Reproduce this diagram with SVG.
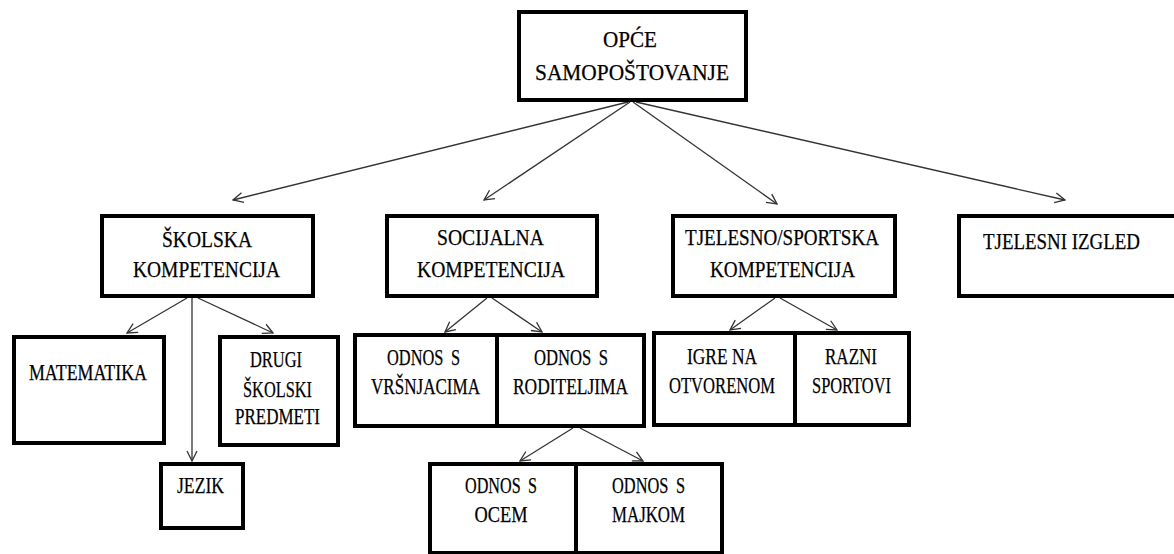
<svg xmlns="http://www.w3.org/2000/svg" width="1174" height="554" viewBox="0 0 1174 554">
<style>
.box{fill:#fff;stroke:#000;stroke-width:4}
.c{stroke:#333;stroke-width:1.3;fill:none}
.t{font-family:'Liberation Serif','Times New Roman',serif;font-size:24px;fill:#000;stroke:#000;stroke-width:0.25;text-anchor:middle}
</style>
<defs>
<marker id="arr" viewBox="0 0 12 12" refX="11" refY="6" markerWidth="12" markerHeight="12" markerUnits="userSpaceOnUse" orient="auto">
<path d="M1,1 L11,6 L1,11" fill="none" stroke="#333" stroke-width="1.3"/>
</marker>
</defs>
<rect width="1174" height="554" fill="#fff"/>
<g id="connectors">
<line class="c" x1="628" y1="102" x2="233" y2="200" marker-end="url(#arr)"/>
<line class="c" x1="630" y1="102" x2="484" y2="200" marker-end="url(#arr)"/>
<line class="c" x1="633" y1="102" x2="777" y2="204" marker-end="url(#arr)"/>
<line class="c" x1="636" y1="102" x2="1065" y2="200" marker-end="url(#arr)"/>
<line class="c" x1="187" y1="298" x2="127" y2="333" marker-end="url(#arr)"/>
<line class="c" x1="192" y1="298" x2="192" y2="461" marker-end="url(#arr)"/>
<line class="c" x1="198" y1="298" x2="273" y2="333" marker-end="url(#arr)"/>
<line class="c" x1="487" y1="298" x2="445" y2="332" marker-end="url(#arr)"/>
<line class="c" x1="492" y1="298" x2="542" y2="332" marker-end="url(#arr)"/>
<line class="c" x1="775" y1="298" x2="730" y2="330" marker-end="url(#arr)"/>
<line class="c" x1="780" y1="298" x2="837" y2="330" marker-end="url(#arr)"/>
<line class="c" x1="573" y1="428" x2="520" y2="461" marker-end="url(#arr)"/>
<line class="c" x1="580" y1="428" x2="643" y2="461" marker-end="url(#arr)"/>
</g>
<g id="opce">
<rect class="box" x="519" y="12" width="227" height="88"/>
<text class="t" x="630" y="47" textLength="54" lengthAdjust="spacingAndGlyphs">OPĆE</text>
<text class="t" x="632" y="80" textLength="194" lengthAdjust="spacingAndGlyphs">SAMOPOŠTOVANJE</text>
</g>
<g id="skolska">
<rect class="box" x="102" y="216" width="211" height="80"/>
<text class="t" x="207" y="247" textLength="90" lengthAdjust="spacingAndGlyphs">ŠKOLSKA</text>
<text class="t" x="206.5" y="277" textLength="147" lengthAdjust="spacingAndGlyphs">KOMPETENCIJA</text>
</g>
<g id="socijalna">
<rect class="box" x="387" y="216" width="210" height="80"/>
<text class="t" x="490.5" y="245" textLength="107" lengthAdjust="spacingAndGlyphs">SOCIJALNA</text>
<text class="t" x="491" y="277" textLength="148" lengthAdjust="spacingAndGlyphs">KOMPETENCIJA</text>
</g>
<g id="tjelesno">
<rect class="box" x="673" y="216" width="222" height="80"/>
<text class="t" x="782" y="245" textLength="194" lengthAdjust="spacingAndGlyphs">TJELESNO/SPORTSKA</text>
<text class="t" x="782.5" y="277" textLength="145" lengthAdjust="spacingAndGlyphs">KOMPETENCIJA</text>
</g>
<g id="izgled">
<rect class="box" x="959" y="216" width="230" height="80"/>
<text class="t" x="1061.5" y="249" textLength="157" lengthAdjust="spacingAndGlyphs">TJELESNI IZGLED</text>
</g>
<g id="matematika">
<rect class="box" x="14" y="337" width="150" height="106"/>
<text class="t" x="88" y="380" textLength="118" lengthAdjust="spacingAndGlyphs">MATEMATIKA</text>
</g>
<g id="drugi">
<rect class="box" x="220" y="337" width="118" height="108"/>
<text class="t" x="276" y="367" textLength="52" lengthAdjust="spacingAndGlyphs">DRUGI</text>
<text class="t" x="277.5" y="397" textLength="69" lengthAdjust="spacingAndGlyphs">ŠKOLSKI</text>
<text class="t" x="277.5" y="424" textLength="85" lengthAdjust="spacingAndGlyphs">PREDMETI</text>
</g>
<g id="jezik">
<rect class="box" x="161" y="464" width="82" height="64"/>
<text class="t" x="200.5" y="493" textLength="47" lengthAdjust="spacingAndGlyphs">JEZIK</text>
</g>
<g id="vrsnjaci">
<rect class="box" x="355" y="335" width="142" height="91"/>
<text class="t" x="423.5" y="365" textLength="73" lengthAdjust="spacingAndGlyphs" word-spacing="5">ODNOS S</text>
<text class="t" x="425.5" y="394" textLength="109" lengthAdjust="spacingAndGlyphs">VRŠNJACIMA</text>
</g>
<g id="roditelji">
<rect class="box" x="497" y="335" width="147" height="91"/>
<text class="t" x="571" y="365" textLength="74" lengthAdjust="spacingAndGlyphs" word-spacing="5">ODNOS S</text>
<text class="t" x="570.5" y="394" textLength="115" lengthAdjust="spacingAndGlyphs">RODITELJIMA</text>
</g>
<g id="igre">
<rect class="box" x="654" y="333" width="141" height="92"/>
<text class="t" x="722" y="364" textLength="70" lengthAdjust="spacingAndGlyphs">IGRE NA</text>
<text class="t" x="722" y="393" textLength="106" lengthAdjust="spacingAndGlyphs">OTVORENOM</text>
</g>
<g id="sportovi">
<rect class="box" x="795" y="333" width="114" height="92"/>
<text class="t" x="851" y="364" textLength="52" lengthAdjust="spacingAndGlyphs">RAZNI</text>
<text class="t" x="851.5" y="393" textLength="79" lengthAdjust="spacingAndGlyphs">SPORTOVI</text>
</g>
<g id="otac">
<rect class="box" x="430" y="464" width="146" height="89"/>
<text class="t" x="501" y="493" textLength="72" lengthAdjust="spacingAndGlyphs" word-spacing="5">ODNOS S</text>
<text class="t" x="501" y="522" textLength="53" lengthAdjust="spacingAndGlyphs">OCEM</text>
</g>
<g id="majka">
<rect class="box" x="576" y="464" width="146" height="89"/>
<text class="t" x="648.5" y="493" textLength="73" lengthAdjust="spacingAndGlyphs" word-spacing="5">ODNOS S</text>
<text class="t" x="648.5" y="522" textLength="73" lengthAdjust="spacingAndGlyphs">MAJKOM</text>
</g>
</svg>
